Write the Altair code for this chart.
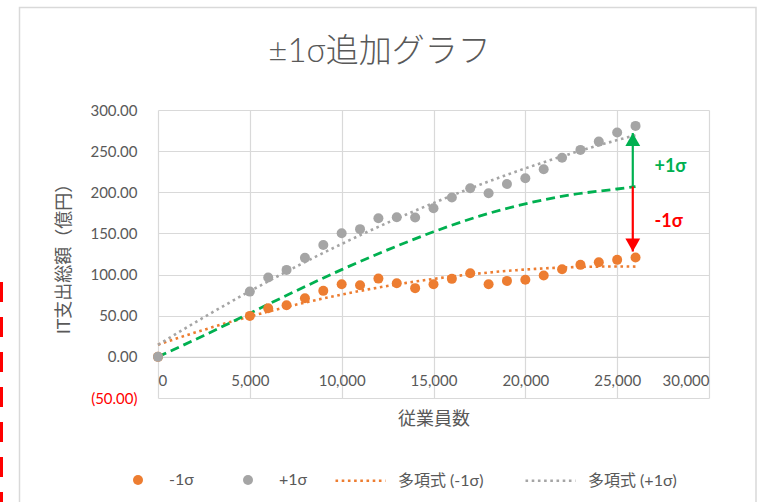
import altair as alt
import pandas as pd

# ---- data -------------------------------------------------------------
employees = [0, 5000, 6000, 7000, 8000, 9000, 10000, 11000, 12000, 13000, 14000,
             15000, 16000, 17000, 18000, 19000, 20000, 21000, 22000, 23000, 24000,
             25000, 26000]
minus_1sigma = [0.0, 49.8, 59.1, 62.8, 71.3, 80.2, 88.3, 87.1, 95.1, 89.5, 83.5,
                88.3, 94.8, 101.7, 88.3, 92.3, 93.6, 98.8, 106.5, 111.8, 115.0,
                117.9, 120.7]
plus_1sigma = [0.0, 79.3, 96.4, 105.7, 120.3, 136.0, 150.3, 155.2, 168.5, 169.7, 169.3,
               180.7, 193.6, 205.0, 198.9, 210.0, 217.0, 228.0, 242.0, 251.5, 261.6,
               272.6, 280.7]

# central (mean) curve
center_x = [0, 2500, 5000, 7500, 10000, 12500, 15000, 17500, 20000, 22500, 25000, 26000]
center_y = [0, 26, 53, 80, 106, 130, 152, 171, 186, 197, 204, 207]

point_names = ["-1σ", "+1σ"]
trend_names = ["多項式 (-1σ)", "多項式 (+1σ)"]
series_colors = ["#ED7D31", "#A5A5A5"]

# ±1σ arrows at the right end
arrow_x = 25850
arrow_base = 207
arrow_up_tip = 272
arrow_down_tip = 128
label_texts = ["+1σ", "-1σ"]
label_x = [27900, 27800]
label_y = [231, 164]

# ---- tables -----------------------------------------------------------
points = pd.DataFrame({
    "x": employees * 2,
    "value": minus_1sigma + plus_1sigma,
    "series": [point_names[0]] * len(employees) + [point_names[1]] * len(employees),
    "trend": [trend_names[0]] * len(employees) + [trend_names[1]] * len(employees),
})
center = pd.DataFrame({"x": center_x, "value": center_y})
arrows = pd.DataFrame({
    "x": [arrow_x, arrow_x],
    "value": [arrow_base, arrow_base],
    "tip": [arrow_up_tip, arrow_down_tip],
    "color": ["#00B050", "#FF0000"],
})
labels = pd.DataFrame({"x": label_x, "value": label_y, "text": label_texts,
                       "color": ["#00B050", "#FF0000"]})
frame_data = pd.DataFrame({"k": [0]})

FONT = "Lato, 'Noto Sans CJK JP', sans-serif"
TEXT = "#595959"
W, H = 551, 288
Y_MIN, Y_MAX = -50, 300
zero_offset = -H * (0 - Y_MIN) / (Y_MAX - Y_MIN)
DOTTED = [2.6, 3.6]

x_scale = alt.Scale(domain=[0, 30000], nice=False)
y_scale = alt.Scale(domain=[Y_MIN, Y_MAX], nice=False)

x_axis = alt.Axis(
    values=list(range(0, 30001, 5000)), labelExpr="format(datum.value, ',')",
    offset=zero_offset, domain=True, domainColor="#CFCFCF", domainWidth=1.2,
    labelPadding=17, title="従業員数", titlePadding=22, titleFontSize=18,
)
y_axis = alt.Axis(
    values=list(range(Y_MIN, Y_MAX + 1, 50)),
    labelExpr="datum.value < 0 ? '(' + format(-datum.value, '.2f') + ')' : format(datum.value, '.2f')",
    labelColor={"condition": {"test": "datum.value < 0", "value": "#FF0000"}, "value": TEXT},
    labelPadding=21, title="IT支出総額（億円）", titlePadding=16, titleFontSize=18,
)
x_enc = alt.X("x:Q", scale=x_scale, axis=x_axis)
y_enc = alt.Y("value:Q", scale=y_scale, axis=y_axis)

legend_common = dict(
    title=None, orient="none", direction="horizontal",
    labelFont=FONT, labelFontSize=16, labelColor=TEXT,
)
point_legend = alt.Legend(
    legendX=-28, legendY=362, symbolType="circle", symbolSize=100,
    symbolStrokeWidth=0, labelOffset=23, columnPadding=46, **legend_common,
)
trend_legend = alt.Legend(
    legendX=176, legendY=344, symbolType="stroke", symbolSize=2500,
    symbolStrokeWidth=2.6, symbolDash=DOTTED, labelOffset=11, columnPadding=36,
    **legend_common,
)

# outer chart frame and the red dashed marker at the far left
frame = alt.Chart(frame_data).mark_rect(fill=None, stroke="#D9D9D9", strokeWidth=1.5).encode(
    x=alt.value(19.5 - 158), x2=alt.value(756 - 158),
    y=alt.value(7.5 - 110), y2=alt.value(520 - 110),
)
red_dash = alt.Chart(frame_data).mark_rule(color="#FF0000", strokeWidth=3,
                                           strokeDash=[20, 15]).encode(
    x=alt.value(1.5 - 158), y=alt.value(282 - 110), y2=alt.value(520 - 110),
)

trend = alt.Chart(points).transform_regression(
    "x", "value", method="poly", order=2, groupby=["trend"]
).mark_line(strokeWidth=2.6, strokeDash=DOTTED).encode(
    x=x_enc, y=y_enc,
    color=alt.Color("trend:N", scale=alt.Scale(domain=trend_names, range=series_colors),
                    legend=trend_legend),
)

center_line = alt.Chart(center).mark_line(
    color="#00B050", strokeWidth=2.8, strokeDash=[9, 5], interpolate="monotone"
).encode(x=x_enc, y=y_enc)

dots = alt.Chart(points).mark_circle(size=100, opacity=1).encode(
    x=x_enc, y=y_enc,
    color=alt.Color("series:N", scale=alt.Scale(domain=point_names, range=series_colors),
                    legend=point_legend),
)

arrow_lines = alt.Chart(arrows).mark_rule(strokeWidth=2.2).encode(
    x=x_enc, y=y_enc, y2="tip:Q",
    color=alt.Color("color:N", scale=None),
)
head_up = alt.Chart(arrows.iloc[[0]]).mark_point(
    shape="triangle-up", filled=True, size=220, opacity=1, color="#00B050"
).encode(x=x_enc, y=alt.Y("tip:Q", scale=y_scale, axis=y_axis), yOffset=alt.value(6.5))
head_down = alt.Chart(arrows.iloc[[1]]).mark_point(
    shape="triangle-down", filled=True, size=220, opacity=1, color="#FF0000"
).encode(x=x_enc, y=alt.Y("tip:Q", scale=y_scale, axis=y_axis), yOffset=alt.value(-6.5))

sigma_labels = alt.Chart(labels).mark_text(
    font=FONT, fontSize=18, fontWeight="bold", align="center", baseline="middle"
).encode(
    x=x_enc, y=y_enc, text="text:N",
    color=alt.Color("color:N", scale=None),
)

chart = alt.layer(
    frame, red_dash, trend, center_line, dots, arrow_lines, head_up, head_down, sigma_labels
).resolve_scale(color="independent").properties(
    width=W, height=H,
    title=alt.TitleParams("±1σ追加グラフ", font=FONT, fontSize=33, fontWeight=300,
                          color=TEXT, anchor="middle", dx=-54, offset=-62),
    autosize=alt.AutoSizeParams(type="none"),
    padding={"left": 158, "top": 110, "right": 50, "bottom": 104},
    background="white",
).configure_view(strokeWidth=0).configure_axis(
    gridColor="#D9D9D9", gridWidth=1.2, ticks=False, domain=False,
    labelFont=FONT, labelFontSize=15, labelColor=TEXT,
    titleFont=FONT, titleColor=TEXT, titleFontWeight="normal",
)

chart.save("out.html", embed_options={"renderer": "svg", "actions": False})
